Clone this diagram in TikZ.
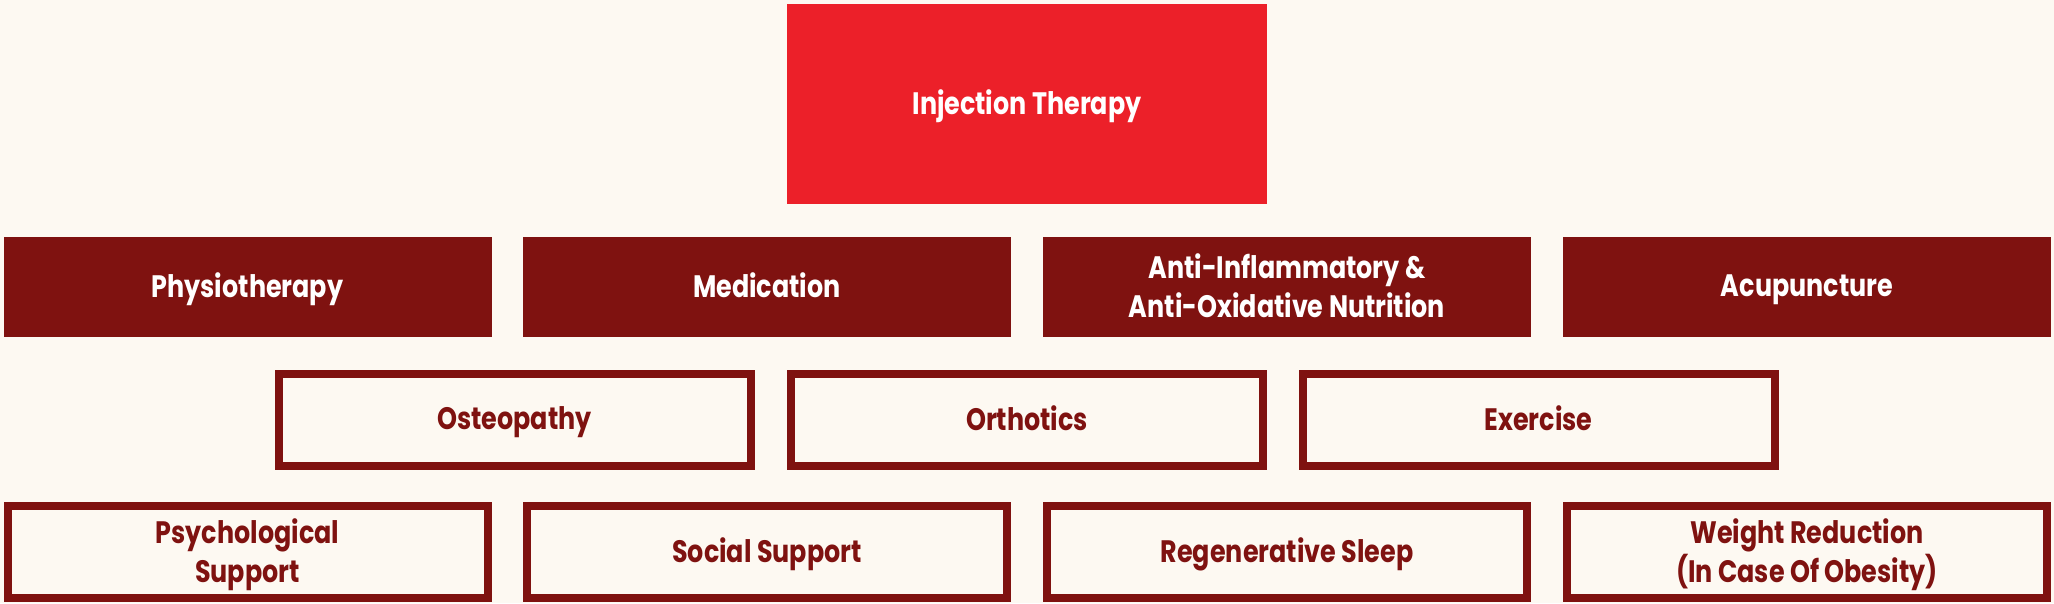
\documentclass[tikz,border=0pt]{standalone}
\usepackage{fontspec}
\setmainfont{Poppins}[FakeStretch=0.82]
\definecolor{bgc}{HTML}{FDF9F2}
\definecolor{topred}{HTML}{EC2029}
\definecolor{darkred}{HTML}{7F1210}
\tikzset{
  base/.style={inner sep=0pt, outer sep=0pt, align=center, font=\fontsize{31}{39}\selectfont\bfseries, text depth=3pt},
  topbox/.style={base, fill=topred, text=white, minimum width=480pt, minimum height=200pt},
  solidbox/.style={base, fill=darkred, text=white, minimum width=488pt, minimum height=100pt},
  outlinebox/.style={base, draw=darkred, line width=8pt, text=darkred, minimum height=92pt},
  widebox/.style={outlinebox, minimum width=480pt},
  midbox/.style={outlinebox, minimum width=472pt}
}
\begin{document}
\begin{tikzpicture}[x=1pt,y=-1pt]
\fill[bgc] (0,0) rectangle (2054,603);
\useasboundingbox (0,0) rectangle (2054,603);
\node[topbox] (inj) at (1027,104) {Injection Therapy};
\node[solidbox] (phys) at (247.5,287) {Physiotherapy};
\node[solidbox] (med) at (767,287) {Medication};
\node[solidbox] (nutr) at (1287,287) {Anti-Inflammatory \&\\Anti-Oxidative Nutrition};
\node[solidbox] (acu) at (1807,287) {Acupuncture};
\node[midbox] (osteo) at (514.5,420) {Osteopathy};
\node[midbox] (orth) at (1027,420) {Orthotics};
\node[midbox] (exer) at (1538.5,420) {Exercise};
\node[widebox] (psych) at (247.5,552) {Psychological\\Support};
\node[widebox] (social) at (767,552) {Social Support};
\node[widebox] (sleep) at (1287,552) {Regenerative Sleep};
\node[widebox] (weight) at (1807,552) {Weight Reduction\\(In Case Of Obesity)};
\end{tikzpicture}
\end{document}
